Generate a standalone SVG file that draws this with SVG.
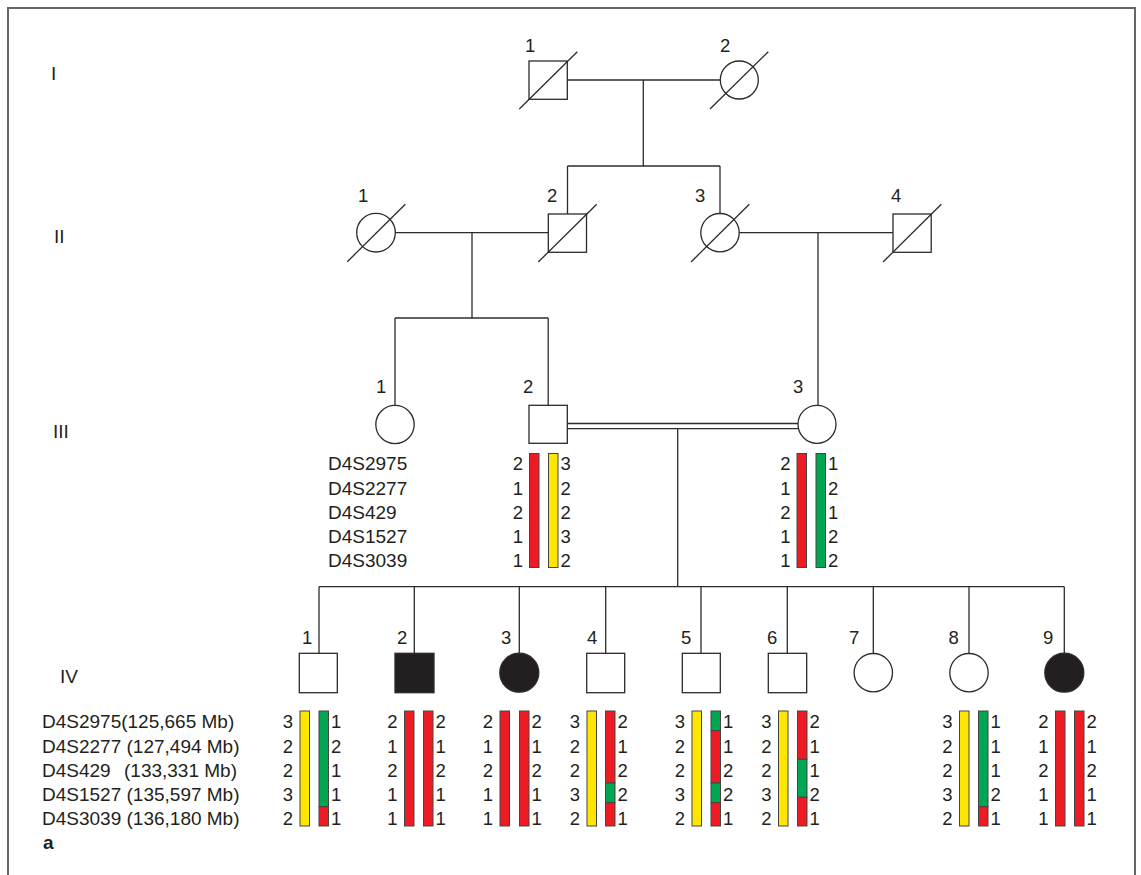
<svg xmlns="http://www.w3.org/2000/svg" width="1141" height="875" viewBox="0 0 1141 875">
<style>
.ln{stroke:#2b2b2b;stroke-width:1.3;fill:none}
.sh{stroke:#2b2b2b;stroke-width:1.3;fill:#fff}
.aff{stroke:#2b2b2b;stroke-width:1.3;fill:#231f20}
.t{font-family:"Liberation Sans",Arial,sans-serif;font-size:18.5px;fill:#231f20}
.lb{font-family:"Liberation Sans",Arial,sans-serif;font-size:19px;fill:#231f20}
.e{text-anchor:end}
.y{fill:#ffe600;stroke:#444;stroke-width:1}
.r{fill:#ed1c24;stroke:#444;stroke-width:1}
.g{fill:#00a651;stroke:#444;stroke-width:1}
</style>
<rect x="8" y="8" width="1127" height="900" fill="#fff" stroke="#666" stroke-width="2"/>
<g id="generation-labels" class="lb">
<text x="51" y="80">I</text>
<text x="54" y="243">II</text>
<text x="53" y="438">III</text>
<text x="60" y="683">IV</text>
</g>
<g id="connectors">
<line class="ln" x1="567" y1="80" x2="720" y2="80"/>
<line class="ln" x1="643.3" y1="80" x2="643.3" y2="166"/>
<line class="ln" x1="567.5" y1="166" x2="720" y2="166"/>
<line class="ln" x1="567.5" y1="166" x2="567.5" y2="214"/>
<line class="ln" x1="720" y1="166" x2="720" y2="213.5"/>
<line class="ln" x1="395.3" y1="232.7" x2="548.3" y2="232.7"/>
<line class="ln" x1="472" y1="232.7" x2="472" y2="318"/>
<line class="ln" x1="395" y1="318" x2="548.2" y2="318"/>
<line class="ln" x1="395" y1="318" x2="395" y2="405.5"/>
<line class="ln" x1="548.2" y1="318" x2="548.2" y2="405.3"/>
<line class="ln" x1="739" y1="232.7" x2="893" y2="232.7"/>
<line class="ln" x1="818" y1="232.7" x2="818" y2="405.3"/>
<line class="ln" x1="567.3" y1="423.5" x2="798" y2="423.5"/>
<line class="ln" x1="567.3" y1="428.7" x2="798" y2="428.7"/>
<line class="ln" x1="677.7" y1="428.7" x2="677.7" y2="586.7"/>
<line class="ln" x1="319" y1="586.7" x2="1064.3" y2="586.7"/>
<line class="ln" x1="319" y1="586.7" x2="319" y2="653.3"/>
<line class="ln" x1="414.3" y1="586.7" x2="414.3" y2="653.3"/>
<line class="ln" x1="519.3" y1="586.7" x2="519.3" y2="653.3"/>
<line class="ln" x1="605.7" y1="586.7" x2="605.7" y2="653.3"/>
<line class="ln" x1="701" y1="586.7" x2="701" y2="653.3"/>
<line class="ln" x1="787.3" y1="586.7" x2="787.3" y2="653.3"/>
<line class="ln" x1="873.3" y1="586.7" x2="873.3" y2="653.3"/>
<line class="ln" x1="969" y1="586.7" x2="969" y2="653.3"/>
<line class="ln" x1="1064.3" y1="586.7" x2="1064.3" y2="653.3"/>
</g>
<g id="I-1">
<rect class="sh" x="529" y="61" width="38.3" height="38.3"/>
<line class="ln" x1="519.3" y1="109" x2="577.3" y2="51.7"/>
<text class="t" x="525" y="52">1</text>
</g>
<g id="I-2">
<circle class="sh" cx="739.3" cy="80" r="19"/>
<line class="ln" x1="710" y1="109" x2="768.3" y2="51.7"/>
<text class="t" x="720" y="52">2</text>
</g>
<g id="II-1">
<circle class="sh" cx="376" cy="232.7" r="19.3"/>
<line class="ln" x1="347.3" y1="261.7" x2="405.3" y2="204.3"/>
<text class="t" x="358" y="202">1</text>
</g>
<g id="II-2">
<rect class="sh" x="548.3" y="214" width="38.2" height="38.3"/>
<line class="ln" x1="538.3" y1="262" x2="596.7" y2="204.3"/>
<text class="t" x="547" y="202">2</text>
</g>
<g id="II-3">
<circle class="sh" cx="720" cy="232.7" r="19.2"/>
<line class="ln" x1="691" y1="262" x2="749.3" y2="204.3"/>
<text class="t" x="695" y="202">3</text>
</g>
<g id="II-4">
<rect class="sh" x="893" y="214" width="38.2" height="38.3"/>
<line class="ln" x1="883" y1="262" x2="941.3" y2="204.3"/>
<text class="t" x="891" y="202">4</text>
</g>
<g id="III-1">
<circle class="sh" cx="395" cy="424.5" r="19.2"/>
<text class="t" x="376" y="393">1</text>
</g>
<g id="III-2">
<rect class="sh" x="529" y="405.3" width="38.3" height="38"/>
<text class="t" x="523" y="393">2</text>
<g class="lb">
<text x="328" y="470">D4S2975</text>
<text x="328" y="494.5">D4S2277</text>
<text x="328" y="518.5">D4S429</text>
<text x="328" y="543">D4S1527</text>
<text x="328" y="567">D4S3039</text>
</g>
<rect class="r" x="529.5" y="453.5" width="9.5" height="114"/>
<rect class="y" x="548.5" y="453.5" width="9.5" height="114"/>
<g class="t e">
<text x="523" y="470">2</text><text x="523" y="494.5">1</text><text x="523" y="518.5">2</text><text x="523" y="543">1</text><text x="523" y="567">1</text>
</g>
<g class="t">
<text x="560.5" y="470">3</text><text x="560.5" y="494.5">2</text><text x="560.5" y="518.5">2</text><text x="560.5" y="543">3</text><text x="560.5" y="567">2</text>
</g>
</g>
<g id="III-3">
<circle class="sh" cx="817" cy="424.3" r="19"/>
<text class="t" x="793" y="393">3</text>
<rect class="r" x="797" y="453.5" width="9.5" height="114"/>
<rect class="g" x="816" y="453.5" width="9.5" height="114"/>
<g class="t e">
<text x="790.5" y="470">2</text><text x="790.5" y="494.5">1</text><text x="790.5" y="518.5">2</text><text x="790.5" y="543">1</text><text x="790.5" y="567">1</text>
</g>
<g class="t">
<text x="828" y="470">1</text><text x="828" y="494.5">2</text><text x="828" y="518.5">1</text><text x="828" y="543">2</text><text x="828" y="567">2</text>
</g>
</g>
<g id="marker-labels-IV" class="lb">
<text x="42" y="728">D4S2975(125,665 Mb)</text>
<text x="42" y="752.5">D4S2277 (127,494 Mb)</text>
<text x="42" y="777">D4S429<tspan x="124">(133,331 Mb)</tspan></text>
<text x="42" y="801">D4S1527 (135,597 Mb)</text>
<text x="42" y="825">D4S3039 (136,180 Mb)</text>
<text x="43" y="849" font-weight="bold">a</text>
</g>
<g id="IV-1">
<rect class="sh" x="299.3" y="653.3" width="38" height="39.4"/>
<text class="t" x="302" y="644">1</text>
<rect class="y" x="300" y="711" width="9.5" height="115"/>
<rect class="g" x="319" y="711" width="9.5" height="95.7"/>
<rect class="r" x="319" y="806.7" width="9.5" height="19.3"/>
<g class="t e"><text x="293" y="728">3</text><text x="293" y="752.5">2</text><text x="293" y="777">2</text><text x="293" y="801">3</text><text x="293" y="825">2</text></g>
<g class="t"><text x="331" y="728">1</text><text x="331" y="752.5">2</text><text x="331" y="777">1</text><text x="331" y="801">1</text><text x="331" y="825">1</text></g>
</g>
<g id="IV-2">
<rect class="aff" x="395" y="653.3" width="39" height="39.4"/>
<text class="t" x="397" y="644">2</text>
<rect class="r" x="404.5" y="711" width="9.5" height="115"/>
<rect class="r" x="423.5" y="711" width="9.5" height="115"/>
<g class="t e"><text x="397.5" y="728">2</text><text x="397.5" y="752.5">1</text><text x="397.5" y="777">2</text><text x="397.5" y="801">1</text><text x="397.5" y="825">1</text></g>
<g class="t"><text x="435.5" y="728">2</text><text x="435.5" y="752.5">1</text><text x="435.5" y="777">2</text><text x="435.5" y="801">1</text><text x="435.5" y="825">1</text></g>
</g>
<g id="IV-3">
<circle class="aff" cx="519.3" cy="672.7" r="19.5"/>
<text class="t" x="501" y="644">3</text>
<rect class="r" x="500" y="711" width="9.5" height="115"/>
<rect class="r" x="519.5" y="711" width="9.5" height="115"/>
<g class="t e"><text x="493" y="728">2</text><text x="493" y="752.5">1</text><text x="493" y="777">2</text><text x="493" y="801">1</text><text x="493" y="825">1</text></g>
<g class="t"><text x="531.5" y="728">2</text><text x="531.5" y="752.5">1</text><text x="531.5" y="777">2</text><text x="531.5" y="801">1</text><text x="531.5" y="825">1</text></g>
</g>
<g id="IV-4">
<rect class="sh" x="586.7" y="653.3" width="38" height="39.4"/>
<text class="t" x="587" y="644">4</text>
<rect class="y" x="587" y="711" width="9.5" height="115"/>
<rect class="r" x="605.5" y="711" width="9.5" height="72"/>
<rect class="g" x="605.5" y="783" width="9.5" height="19.7"/>
<rect class="r" x="605.5" y="802.7" width="9.5" height="23.3"/>
<g class="t e"><text x="580" y="728">3</text><text x="580" y="752.5">2</text><text x="580" y="777">2</text><text x="580" y="801">3</text><text x="580" y="825">2</text></g>
<g class="t"><text x="617.5" y="728">2</text><text x="617.5" y="752.5">1</text><text x="617.5" y="777">2</text><text x="617.5" y="801">2</text><text x="617.5" y="825">1</text></g>
</g>
<g id="IV-5">
<rect class="sh" x="682.3" y="653.3" width="38" height="39.4"/>
<text class="t" x="681" y="644">5</text>
<rect class="y" x="692" y="711" width="9.5" height="115"/>
<rect class="g" x="711" y="711" width="9.5" height="19.7"/>
<rect class="r" x="711" y="730.7" width="9.5" height="52.3"/>
<rect class="g" x="711" y="783" width="9.5" height="19.7"/>
<rect class="r" x="711" y="802.7" width="9.5" height="23.3"/>
<g class="t e"><text x="685" y="728">3</text><text x="685" y="752.5">2</text><text x="685" y="777">2</text><text x="685" y="801">3</text><text x="685" y="825">2</text></g>
<g class="t"><text x="723" y="728">1</text><text x="723" y="752.5">1</text><text x="723" y="777">2</text><text x="723" y="801">2</text><text x="723" y="825">1</text></g>
</g>
<g id="IV-6">
<rect class="sh" x="768.3" y="653.3" width="38.4" height="39.4"/>
<text class="t" x="767" y="644">6</text>
<rect class="y" x="778.5" y="711" width="9.5" height="115"/>
<rect class="r" x="797.5" y="711" width="9.5" height="48.3"/>
<rect class="g" x="797.5" y="759.3" width="9.5" height="38"/>
<rect class="r" x="797.5" y="797.3" width="9.5" height="28.7"/>
<g class="t e"><text x="771.5" y="728">3</text><text x="771.5" y="752.5">2</text><text x="771.5" y="777">2</text><text x="771.5" y="801">3</text><text x="771.5" y="825">2</text></g>
<g class="t"><text x="809.5" y="728">2</text><text x="809.5" y="752.5">1</text><text x="809.5" y="777">1</text><text x="809.5" y="801">2</text><text x="809.5" y="825">1</text></g>
</g>
<g id="IV-7">
<circle class="sh" cx="873.3" cy="672.7" r="19.2"/>
<text class="t" x="849" y="644">7</text>
</g>
<g id="IV-8">
<circle class="sh" cx="969" cy="672.7" r="19.2"/>
<text class="t" x="948.5" y="644">8</text>
<rect class="y" x="959.5" y="711" width="9.5" height="115"/>
<rect class="g" x="978.5" y="711" width="9.5" height="95.7"/>
<rect class="r" x="978.5" y="806.7" width="9.5" height="19.3"/>
<g class="t e"><text x="952.5" y="728">3</text><text x="952.5" y="752.5">2</text><text x="952.5" y="777">2</text><text x="952.5" y="801">3</text><text x="952.5" y="825">2</text></g>
<g class="t"><text x="990.5" y="728">1</text><text x="990.5" y="752.5">1</text><text x="990.5" y="777">1</text><text x="990.5" y="801">2</text><text x="990.5" y="825">1</text></g>
</g>
<g id="IV-9">
<circle class="aff" cx="1064.3" cy="672.7" r="19.5"/>
<text class="t" x="1043" y="644">9</text>
<rect class="r" x="1055.5" y="711" width="9.5" height="115"/>
<rect class="r" x="1074.5" y="711" width="9.5" height="115"/>
<g class="t e"><text x="1048.5" y="728">2</text><text x="1048.5" y="752.5">1</text><text x="1048.5" y="777">2</text><text x="1048.5" y="801">1</text><text x="1048.5" y="825">1</text></g>
<g class="t"><text x="1086.5" y="728">2</text><text x="1086.5" y="752.5">1</text><text x="1086.5" y="777">2</text><text x="1086.5" y="801">1</text><text x="1086.5" y="825">1</text></g>
</g>
</svg>
